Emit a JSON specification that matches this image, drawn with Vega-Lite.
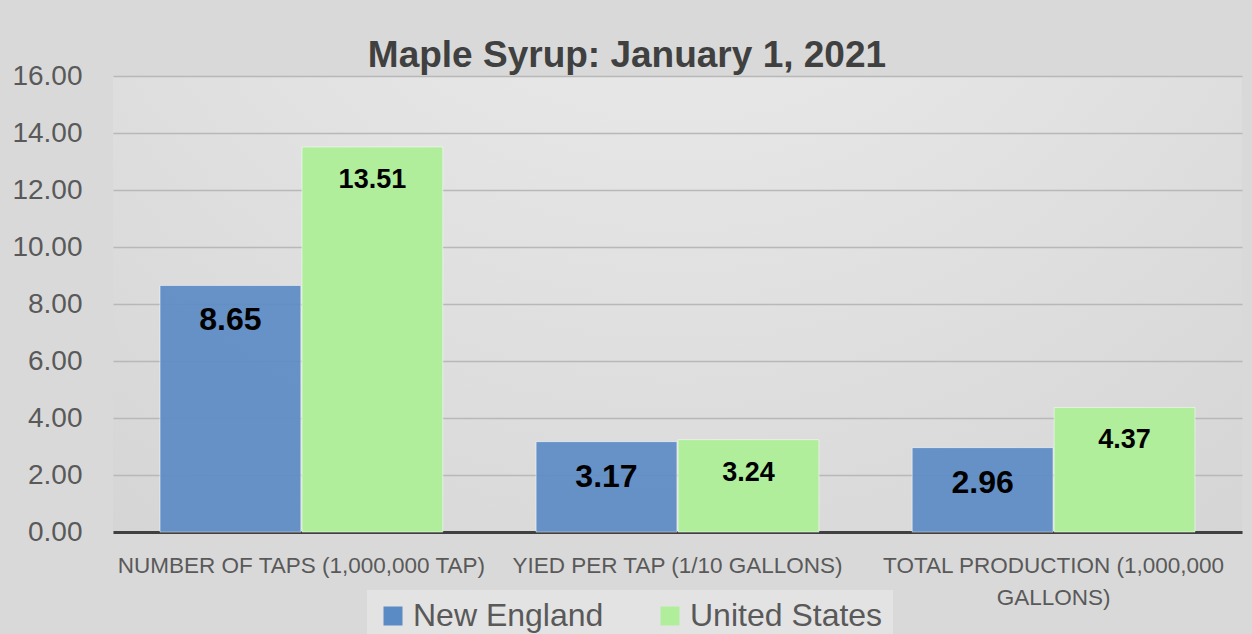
{
  "$schema": "https://vega.github.io/schema/vega-lite/v6.json",
  "width": 1129,
  "height": 456,
  "autosize": {"type": "none"},
  "padding": {"left": 113, "top": 76, "right": 10, "bottom": 102},
  "background": "#d9d9d9",
  "title": {
    "text": "Maple Syrup: January 1, 2021",
    "fontSize": 37,
    "font": "Liberation Sans",
    "fontWeight": "bold",
    "color": "#404040",
    "frame": "bounds",
    "anchor": "middle",
    "offset": 4,
    "dy": 17
  },
  "config": {
    "view": {
      "stroke": null,
      "fill": {
        "gradient": "radial",
        "x1": 0.5, "y1": 0.0, "x2": 0.5, "y2": 0.0, "r1": 0, "r2": 0.9,
        "stops": [
          {"offset": 0, "color": "#f0f0f0"},
          {"offset": 1, "color": "#d4d4d4"}
        ]
      }
    }
  },
  "data": {
    "values": [
      {"measure": "NUMBER OF TAPS (1,000,000 TAP)", "region": "New England", "value": 8.65},
      {"measure": "NUMBER OF TAPS (1,000,000 TAP)", "region": "United States", "value": 13.51},
      {"measure": "YIED PER TAP (1/10 GALLONS)", "region": "New England", "value": 3.17},
      {"measure": "YIED PER TAP (1/10 GALLONS)", "region": "United States", "value": 3.24},
      {"measure": "TOTAL PRODUCTION (1,000,000 GALLONS)", "region": "New England", "value": 2.96},
      {"measure": "TOTAL PRODUCTION (1,000,000 GALLONS)", "region": "United States", "value": 4.37}
    ]
  },
  "encoding": {
    "x": {
      "field": "measure",
      "type": "nominal",
      "sort": ["NUMBER OF TAPS (1,000,000 TAP)", "YIED PER TAP (1/10 GALLONS)", "TOTAL PRODUCTION (1,000,000 GALLONS)"],
      "scale": {"paddingInner": 0.248, "paddingOuter": 0.125},
      "axis": {
        "title": null,
        "labelAngle": 0,
        "labelFont": "Liberation Sans",
        "labelFontSize": 22.5,
        "labelColor": "#595959",
        "labelPadding": 22,
        "labelLimit": 0,
        "labelLineHeight": 32,
        "labelExpr": "datum.value == 'TOTAL PRODUCTION (1,000,000 GALLONS)' ? ['TOTAL PRODUCTION (1,000,000', 'GALLONS)'] : datum.value",
        "ticks": false,
        "domainColor": "#404040",
        "domainWidth": 3,
        "grid": false
      }
    },
    "xOffset": {
      "field": "region",
      "type": "nominal",
      "sort": ["New England", "United States"],
      "scale": {"domain": ["New England", "United States"], "paddingInner": 0.008}
    },
    "y": {
      "field": "value",
      "type": "quantitative",
      "scale": {"domain": [0, 16], "nice": false},
      "axis": {
        "title": null,
        "values": [0, 2, 4, 6, 8, 10, 12, 14, 16],
        "format": ".2f",
        "labelFont": "Liberation Sans",
        "labelFontSize": 28,
        "labelColor": "#595959",
        "labelPadding": 31,
        "ticks": false,
        "domain": false,
        "gridColor": "#b8b8b8",
        "gridWidth": 1.5
      }
    }
  },
  "layer": [
    {
      "mark": {"type": "bar", "stroke": "#ffffff", "strokeWidth": 1, "strokeOpacity": 0.5},
      "encoding": {
        "color": {
          "field": "region",
          "type": "nominal",
          "scale": {"domain": ["New England", "United States"], "range": ["#5b8bc5", "#b0ee9c"]},
          "legend": {
            "title": null,
            "orient": "none",
            "direction": "horizontal",
            "legendX": 254,
            "legendY": 514,
            "fillColor": "#e3e3e3",
            "padding": 10,
            "symbolType": "square",
            "symbolSize": 361,
            "symbolStrokeWidth": 0,
            "symbolOpacity": 1,
            "labelFont": "Liberation Sans",
            "labelFontSize": 32,
            "labelColor": "#595959",
            "labelOffset": 4,
            "columnPadding": 50,
            "labelLimit": 0
          }
        },
        "fillOpacity": {
          "field": "region",
          "type": "nominal",
          "scale": {"domain": ["New England", "United States"], "range": [0.92, 1]},
          "legend": null
        }
      }
    },
    {
      "transform": [{"filter": "datum.region == 'New England'"}],
      "mark": {"type": "text", "baseline": "top", "dy": 20, "font": "Liberation Sans", "fontWeight": "bold", "fontSize": 32, "color": "#000000"},
      "encoding": {
        "text": {"field": "value", "type": "quantitative", "format": ".2f"}
      }
    },
    {
      "transform": [{"filter": "datum.region == 'United States'"}],
      "mark": {"type": "text", "baseline": "top", "dy": 20, "font": "Liberation Sans", "fontWeight": "bold", "fontSize": 27, "color": "#000000"},
      "encoding": {
        "text": {"field": "value", "type": "quantitative", "format": ".2f"}
      }
    }
  ]
}
